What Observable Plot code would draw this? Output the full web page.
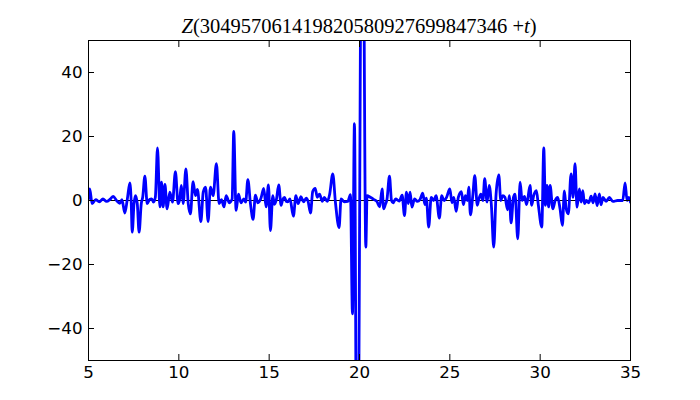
<!DOCTYPE html>
<html>
<head>
<meta charset="utf-8">
<script src="https://cdn.jsdelivr.net/npm/d3@7"></script>
<script src="https://cdn.jsdelivr.net/npm/@observablehq/plot@0.6"></script>
<style>
  html, body { margin: 0; padding: 0; background: #ffffff; }
  #chart { width: 700px; height: 400px; }
</style>
</head>
<body>
<div id="chart"></div>
<script>
// t offsets and Z values
const tValues = [
  5.0, 5.07, 5.2, 5.4, 5.6, 5.8, 6.0, 6.2, 6.37, 6.55, 6.73, 6.85, 7.01, 7.15, 7.29, 7.36, 7.42, 7.52, 7.6, 7.7,
  7.8, 7.92, 8.0, 8.12, 8.25, 8.38, 8.5, 8.6, 8.7, 8.82, 8.95, 9.04, 9.13, 9.23, 9.35, 9.5, 9.65, 9.81, 9.96, 10.05,
  10.14, 10.24, 10.39, 10.52, 10.64, 10.79, 10.92, 11.03, 11.22, 11.35, 11.48, 11.62, 11.75, 11.9, 12.08, 12.23, 12.36, 12.5, 12.62, 12.8,
  12.95, 13.04, 13.17, 13.3, 13.44, 13.6, 13.7, 13.82, 13.97, 14.11, 14.24, 14.37, 14.55, 14.7, 14.83, 14.96, 15.07, 15.2, 15.29, 15.4,
  15.53, 15.66, 15.75, 15.85, 15.95, 16.03, 16.15, 16.34, 16.48, 16.6, 16.76, 16.9, 17.05, 17.15, 17.29, 17.41, 17.55, 17.66, 17.79, 17.94,
  18.05, 18.22, 18.35, 18.52, 18.67, 18.87, 18.98, 19.16, 19.35, 19.5, 19.61, 19.72, 19.87, 20.16, 20.35, 20.42, 20.6, 20.8, 20.97, 21.12,
  21.25, 21.34, 21.43, 21.52, 21.66, 21.77, 21.86, 22.0, 22.2, 22.36, 22.49, 22.6, 22.7, 22.8, 22.9, 23.05, 23.2, 23.35, 23.5, 23.62,
  23.7, 23.83, 23.97, 24.1, 24.24, 24.42, 24.55, 24.68, 24.82, 25.0, 25.12, 25.22, 25.35, 25.47, 25.64, 25.75, 25.86, 25.97, 26.05, 26.14,
  26.27, 26.38, 26.52, 26.6, 26.72, 26.83, 26.93, 27.06, 27.18, 27.3, 27.43, 27.56, 27.71, 27.82, 27.93, 28.05, 28.2, 28.29, 28.39, 28.52,
  28.61, 28.76, 28.89, 29.0, 29.13, 29.25, 29.44, 29.53, 29.64, 29.79, 29.9, 30.09, 30.2, 30.29, 30.38, 30.47, 30.55, 30.7, 30.83, 30.97,
  31.1, 31.23, 31.34, 31.44, 31.56, 31.71, 31.82, 31.93, 32.04, 32.17, 32.27, 32.36, 32.45, 32.56, 32.69, 32.82, 32.93, 33.04, 33.15, 33.28,
  33.37, 33.48, 33.65, 33.83, 34.02, 34.29, 34.57, 34.7, 34.81, 34.9, 35.0
];
const zValues = [
  0.5, 3.6, -1.0, 0.3, -0.4, 0.5, -0.3, 0.4, 1.3, 0.0, -0.9, 0.3, -3.9, 0.5, 5.5, 0.0, -9.9, -1.0, 1.5, -1.0,
  -9.9, -1.0, 1.0, 7.6, -1.0, 0.3, 0.5, -0.5, 1.0, 16.4, -2.0, 5.7, -2.0, 5.0, -2.6, 2.6, -0.5, 9.0, -1.0, 0.5,
  4.7, -1.0, 9.9, -1.0, -4.2, 5.9, 1.5, 3.5, -6.6, 2.6, 4.2, -6.6, 4.2, 1.5, 11.5, -1.0, 0.3, -2.0, 1.5, -0.7,
  0.5, 21.6, -3.1, 2.0, -0.7, 0.5, -0.5, 6.5, -1.3, -5.9, 1.7, -0.7, 0.8, 3.8, -2.0, 4.9, -9.4, 1.5, -1.2, 0.3,
  4.9, -1.5, 0.3, 1.0, -0.3, -0.4, 0.5, -4.9, 1.5, -1.0, 1.2, -0.4, 0.7, -0.2, -3.9, 2.8, 3.8, 1.0, 2.0, -0.3,
  1.0, -0.3, 2.0, 8.3, -0.7, -8.5, 0.5, -0.4, -0.3, 1.8, -35.4, 24.0, -120, 130, -14.6, 1.5, 1.0, 0.3, -0.4, -2.0,
  3.6, -2.6, -1.3, 0.3, 7.6, 0.0, -0.7, 0.5, -0.2, 1.7, -4.7, 2.6, -1.0, 2.6, -2.1, 0.5, -0.3, 0.3, 2.3, -1.3,
  0.7, -8.3, 1.0, 0.0, 1.5, -5.5, 1.5, 0.0, 1.0, 3.6, -0.7, 1.0, -3.4, 1.0, 2.8, -1.3, 1.5, 0.0, 4.2, -4.5,
  1.5, 7.8, -1.5, 0.3, 2.0, 0.0, 6.8, -0.5, 4.7, -1.5, -14.6, 2.0, 8.0, 0.0, 1.5, 1.0, -2.9, 1.5, -7.0, 1.0,
  2.0, -12.0, 5.7, 0.0, 1.3, -1.3, 4.7, -1.5, 1.5, 3.1, -1.5, -8.3, 16.4, -1.5, 4.7, -2.0, 4.7, -2.6, 0.0, 1.0,
  -2.6, -7.8, 3.0, -2.6, -4.2, 8.3, 1.0, 11.5, -2.1, 3.6, -0.5, 3.1, -1.0, 0.0, -0.7, 1.35, -0.7, 2.1, -1.6, 2.1,
  -1.35, 1.0, -0.3, 1.0, -0.3, 0.0, 0.0, 5.5, 0.0, 1.0, -0.5
];
const xTicks = [5, 10, 15, 20, 25, 30, 35];
const yTicks = [-40, -20, 0, 20, 40];
const titleParts = [
  {text: "Z", italic: true},
  {text: "(304957061419820580927699847346", italic: false},
  {text: " +", italic: false},
  {text: "t", italic: true},
  {text: ")", italic: false}
];

const data = tValues.map((t, i) => ({t, z: zValues[i]}));

const chart = Plot.plot({
  width: 700,
  height: 400,
  marginLeft: 88,
  marginRight: 70,
  marginTop: 40,
  marginBottom: 40,
  x: {domain: [5, 35], label: null},
  y: {domain: [-50, 50], label: null},
  style: {fontFamily: "'DejaVu Sans', sans-serif", fontSize: "16.7px", color: "black", background: "white"},
  marks: [
    Plot.ruleY([0], {stroke: "black", strokeWidth: 1}),
    Plot.line(data, {x: "t", y: "z", stroke: "#0000ff", strokeWidth: 2.8, clip: true, curve: "monotone-x"}),
    Plot.frame({stroke: "black", strokeWidth: 1}),
    Plot.axisX(xTicks, {anchor: "bottom", tickSize: -6, tickPadding: 12, label: null}),
    Plot.axisX(xTicks, {anchor: "top", tickSize: -6, tickFormat: () => "", label: null}),
    Plot.axisY(yTicks, {anchor: "left", tickSize: -6, tickPadding: 12, label: null}),
    Plot.axisY(yTicks, {anchor: "right", tickSize: -6, tickFormat: () => "", label: null})
  ]
});

document.getElementById("chart").appendChild(chart);

// Title (mathtext-like: italic variables, upright digits)
const svg = d3.select(chart);
const title = svg.append("text")
  .attr("x", (88 + 630) / 2)
  .attr("y", 33)
  .attr("text-anchor", "middle")
  .attr("font-family", "'Liberation Serif', 'DejaVu Serif', serif")
  .attr("font-size", "20.5px")
  .attr("fill", "black");
titleParts.forEach(p => {
  title.append("tspan")
    .attr("font-style", p.italic ? "italic" : "normal")
    .text(p.text);
});
</script>
</body>
</html>
